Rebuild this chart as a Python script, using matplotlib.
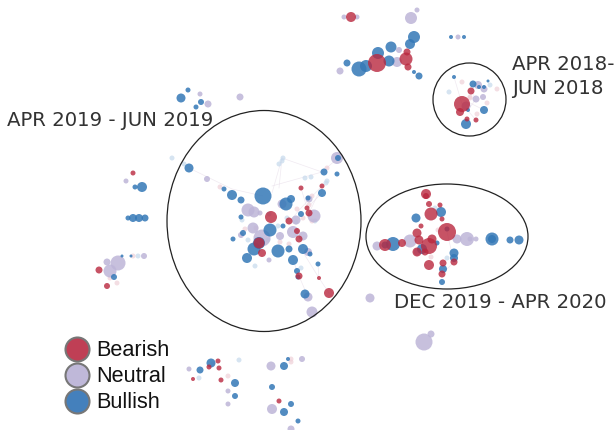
import matplotlib
matplotlib.use("Agg")
import matplotlib.pyplot as plt
from matplotlib.patches import Ellipse

# node positions (x, y, radius)
bearish_x = [271, 289, 301, 309, 322, 297, 307, 259, 262, 299, 319, 329, 299,
             426, 426, 429, 440, 431, 442, 447, 421, 417, 419, 432, 429, 417, 425, 429, 443, 442, 454, 385, 402,
             351, 377, 406, 407, 408, 462, 460, 471, 467, 476,
             218, 209, 219, 193, 221, 279, 133, 99, 107]
bearish_y = [217, 221, 188, 213, 186, 231, 208, 243, 253, 276, 278, 293, 239,
             194, 196, 204, 205, 214, 219, 232, 226, 233, 240, 239, 246, 252, 252, 265, 263, 274, 262, 245, 243,
             17, 63, 59, 52, 67, 104, 112, 91, 119, 120,
             361, 367, 368, 379, 380, 401, 173, 270, 286]
bearish_r = [5.5, 3, 2, 3, 2, 2.5, 2, 5, 3.5, 3, 1.5, 4.5, 3,
             4.5, 2.5, 2.5, 2, 6, 2, 8.5, 2, 4, 4, 4, 7.5, 4, 3, 4.5, 3, 3, 3, 5.5, 3.5,
             4.5, 8.5, 6, 3, 3, 7.5, 3.5, 3, 2, 2,
             2, 2, 2, 1.5, 2, 2, 2, 3, 2.5]

neutral_x = [337, 207, 248, 254, 282, 314, 253, 293, 296, 303, 280, 260, 309,
             262, 308, 312, 308, 269, 241,
             377, 410, 457, 467, 476, 417, 470,
             344, 357, 411, 417, 340, 399, 397, 458, 466, 476, 483, 478, 484,
             189, 228, 228, 271, 302, 272, 291,
             200, 208, 240, 126, 118, 110, 107, 144, 370, 424, 431]
neutral_y = [158, 179, 210, 212, 204, 216, 228, 232, 220, 236, 236, 213, 199,
             238, 297, 312, 252, 260, 235,
             246, 241, 239, 239, 239, 252, 239,
             17, 17, 18, 10, 71, 50, 62, 37, 106, 99, 97, 85, 89,
             369, 391, 404, 366, 359, 409, 429,
             94, 104, 97, 181, 263, 271, 262, 256, 298, 342, 334]
neutral_r = [5.5, 2.5, 6, 5, 4, 6, 5, 5.5, 4, 4, 3.5, 2, 3,
             8, 4, 5, 3.5, 2, 2.5,
             4, 6, 4, 6.5, 2, 3, 2,
             2, 2, 5.5, 2, 3, 2.5, 4.5, 2, 4, 3, 2.5, 3.5, 3,
             2, 2, 2, 4, 2.5, 4.5, 3,
             2, 3, 3, 2, 7, 6, 3, 2.5, 4, 8, 3]

bullish_x = [189, 263, 232, 241, 224, 286, 291, 241, 270, 243, 283, 301, 308, 322, 324, 337, 338,
             233, 259, 254, 247, 278, 289, 303, 293, 297, 318, 305, 310, 298,
             416, 441, 447, 422, 437, 393, 385, 454, 454, 443, 442, 492, 492, 510, 519,
             378, 359, 366, 347, 391, 414, 410, 389, 414, 419, 451, 464, 466, 484, 473, 484, 479, 454, 488, 468,
             211, 200, 235, 235, 284, 272, 288, 291, 284, 298,
             181, 188, 196, 201, 142, 135, 128, 133, 139, 145, 114, 122, 131]
bullish_y = [168, 196, 195, 200, 189, 204, 199, 217, 230, 233, 226, 214, 198, 193, 172, 174, 158,
             239, 243, 249, 258, 251, 249, 249, 260, 271, 264, 294, 254, 277,
             218, 212, 229, 249, 243, 244, 245, 253, 258, 269, 282, 239, 239, 240, 240,
             53, 69, 66, 63, 47, 37, 44, 61, 72, 76, 37, 37, 124, 110, 84, 87, 87, 77, 81, 110,
             363, 370, 383, 396, 366, 387, 359, 404, 412, 421,
             98, 90, 107, 102, 187, 187, 218, 218, 218, 218, 277, 256, 256]
bullish_r = [4, 8, 4.5, 3, 2, 6, 3.5, 2, 6, 2.5, 2, 2.5, 2, 3.5, 3, 2, 2.5,
             2, 5.5, 6, 4.5, 6, 3, 4.5, 4.5, 2.5, 2, 4, 2, 2,
             4, 4.5, 2, 4.5, 2, 6.5, 3, 4, 3.5, 3.5, 2.5, 6, 3.5, 3, 4,
             5.5, 7, 5.5, 3, 5, 5.5, 4.5, 5, 1.5, 3, 1.5, 1.5, 4.5, 3.5, 3, 1.5, 1.5, 1.5, 1, 1.5,
             4, 3, 3.5, 2.5, 3.5, 2.5, 1.5, 2.5, 3.5, 2,
             4, 2, 2, 2.5, 4.5, 2, 2, 3.5, 3.5, 3, 2.5, 1, 1]

# very pale little nodes
pale_blue_x = [172, 184, 282, 279, 283, 305, 311, 327, 326, 242, 255, 268, 296, 315, 301, 278, 287, 435, 447, 269, 490, 199, 239, 248, 138, 449]
pale_blue_y = [158, 164, 161, 164, 158, 178, 177, 181, 183, 220, 266, 240, 222, 221, 268, 226, 218, 208, 258, 214, 85, 378, 360, 240, 256, 92]
pale_red_x = [220, 327, 312, 303, 297, 280, 256, 245, 289, 309, 470, 487, 497, 438, 431, 213, 228, 291, 312, 117, 110, 133, 462, 470, 477, 291]
pale_red_y = [187, 168, 196, 218, 209, 242, 228, 229, 244, 205, 97, 103, 89, 230, 257, 364, 376, 362, 221, 283, 278, 256, 82, 98, 114, 359]

# pale links between nodes
edge_x = [[279, 282, 322, 338], [272, 282], [272, 322], [189, 232, 263], [322, 301, 289],
          [301, 307, 322], [309, 322], [301, 319, 329], [293, 299, 308], [319, 318],
          [454, 462, 476], [458, 484], [447, 454], [471, 476, 468], [442, 454]]
edge_y = [[188, 158, 172, 158], [193, 158], [186, 172], [168, 189, 196], [186, 208, 222],
          [188, 208, 193], [213, 186], [249, 278, 293], [260, 276, 297], [278, 264],
          [77, 104, 120], [97, 110], [232, 262], [91, 99, 110], [274, 262]]

legend_labels = ["Bearish", "Neutral", "Bullish"]

RED = "#b9283f"
LAVENDER = "#bdb5d8"
BLUE = "#3478b7"

fig = plt.figure(figsize=(6.15, 4.30), dpi=100)
ax = fig.add_axes([0, 0, 1, 1])
ax.set_xlim(0, 615)
ax.set_ylim(430, 0)
ax.axis("off")


def area(radii, grow=0.5):
    # radius in pixels to scatter area in points^2
    return [(2 * (r + grow) * 72 / 100) ** 2 for r in radii]


for xs, ys in zip(edge_x, edge_y):
    ax.plot(xs, ys, color="#e6dbe8", lw=0.5, alpha=0.6, zorder=1)

ax.scatter(pale_blue_x, pale_blue_y, s=area([2] * len(pale_blue_x)), c="#c5d9ec", alpha=0.7, lw=0, zorder=1)
ax.scatter(pale_red_x, pale_red_y, s=area([2] * len(pale_red_x)), c="#efd0d8", alpha=0.7, lw=0, zorder=1)
ax.scatter(neutral_x, neutral_y, s=area(neutral_r), c=LAVENDER, alpha=0.85, lw=0, zorder=2)
ax.scatter(bullish_x, bullish_y, s=area(bullish_r), c=BLUE, alpha=0.85, lw=0, zorder=3)
ax.scatter(bearish_x, bearish_y, s=area(bearish_r), c=RED, alpha=0.8, lw=0, zorder=4)

# period outlines
ax.add_patch(Ellipse((264, 221), 194, 221, fill=False, ec="#222222", lw=0.9, zorder=5))
ax.add_patch(Ellipse((447, 236.5), 162, 105, fill=False, ec="#222222", lw=0.9, zorder=5))
ax.add_patch(Ellipse((469.5, 99.5), 73, 73, fill=False, ec="#222222", lw=0.9, zorder=5))

label_style = dict(fontsize=14.2, color="#333333", family="DejaVu Sans", va="center", zorder=6)
ax.text(7, 120, "APR 2019 - JUN 2019", **label_style)
ax.text(394, 302, "DEC 2019 - APR 2020", **label_style)
ax.text(512, 64, "APR 2018-", **label_style)
ax.text(512, 88, "JUN 2018", **label_style)

# legend drawn by hand, swatches touch each other
for label, col, yy in zip(legend_labels, ["#bf3f55", "#bfb8d9", "#4480bc"], [349, 375, 401]):
    ax.scatter([77], [yy], s=area([12], grow=0), c=col, ec="#777777", lw=1.5, zorder=7)
    ax.text(96, yy + 1.5, label, fontsize=15.6, color="#111111", family="Liberation Sans", va="center", zorder=7)

fig.savefig("out.png", dpi=100)
